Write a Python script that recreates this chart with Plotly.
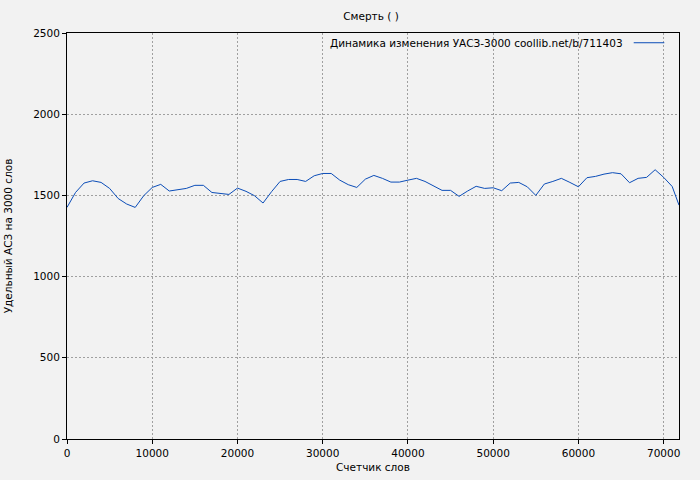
import plotly.graph_objects as go

words = [0, 1000, 2000, 3000, 4000, 5000, 6000, 7000, 8000, 9000,
         10000, 11000, 12000, 13000, 14000, 15000, 16000, 17000, 18000, 19000,
         20000, 21000, 22000, 23000, 24000, 25000, 26000, 27000, 28000, 29000,
         30000, 31000, 32000, 33000, 34000, 35000, 36000, 37000, 38000, 39000,
         40000, 41000, 42000, 43000, 44000, 45000, 46000, 47000, 48000, 49000,
         50000, 51000, 52000, 53000, 54000, 55000, 56000, 57000, 58000, 59000,
         60000, 61000, 62000, 63000, 64000, 65000, 66000, 67000, 68000, 69000,
         70000, 71000, 71800]
uasz = [1426, 1518, 1576, 1590, 1580, 1543, 1481, 1447, 1426, 1498,
        1549, 1568, 1527, 1537, 1543, 1562, 1562, 1518, 1512, 1506,
        1545, 1525, 1498, 1453, 1523, 1586, 1598, 1598, 1586, 1621,
        1635, 1635, 1594, 1566, 1549, 1600, 1623, 1605, 1582, 1582,
        1594, 1605, 1586, 1560, 1531, 1531, 1494, 1527, 1556, 1543,
        1547, 1529, 1576, 1580, 1553, 1500, 1570, 1586, 1605, 1580,
        1553, 1609, 1617, 1631, 1640, 1633, 1578, 1605, 1611, 1658,
        1611, 1555, 1440]

x_ticks = [0, 10000, 20000, 30000, 40000, 50000, 60000, 70000]
y_ticks = [0, 500, 1000, 1500, 2000, 2500]

title_text = "Смерть ( )"
legend_text = "Динамика изменения УАСЗ-3000 coollib.net/b/711403"
x_title = "Счетчик слов"
y_title = "Удельный АСЗ на 3000 слов"

line_color = "#0b4db8"
font = dict(family="DejaVu Sans, sans-serif", size=10.5, color="#000000")

fig = go.Figure()
fig.add_trace(go.Scatter(x=words, y=uasz, mode="lines",
                         line=dict(color=line_color, width=1),
                         showlegend=False, hoverinfo="x+y"))

axis_common = dict(showline=True, linecolor="black", linewidth=1, mirror=True,
                   showgrid=True, gridcolor="#a0a0a0", griddash="2px,2px", gridwidth=1,
                   zeroline=False, ticks="outside", ticklen=4, tickcolor="black",
                   tickfont=font, automargin=False)

fig.update_layout(
    width=700, height=480,
    paper_bgcolor="#f2f2f2", plot_bgcolor="#f2f2f2",
    margin=dict(l=67, r=21, t=33, b=41, autoexpand=False),
    font=font,
    title=dict(text=title_text, x=0.53, xanchor="center", y=0.966, yanchor="middle",
               font=font, automargin=False),
    xaxis=dict(range=[0, 71800], tickvals=x_ticks, ticktext=[str(v) for v in x_ticks],
               title=dict(text=x_title, standoff=6, font=font), **axis_common),
    yaxis=dict(range=[0, 2500], tickvals=y_ticks, ticktext=[str(v) for v in y_ticks],
               title=dict(text=y_title, standoff=18, font=font), **axis_common),
    showlegend=False,
)

fig.add_annotation(xref="paper", yref="paper", x=0.911, y=0.976,
                   xanchor="right", yanchor="middle", showarrow=False,
                   text=legend_text, font=font)
fig.add_shape(type="line", xref="paper", yref="paper",
              x0=0.926, x1=0.976, y0=0.976, y1=0.976,
              line=dict(color=line_color, width=1))

fig.write_html("out.html", config={"displayModeBar": False},
               post_script="document.body.style.margin='0';document.body.style.background='#f2f2f2';")
